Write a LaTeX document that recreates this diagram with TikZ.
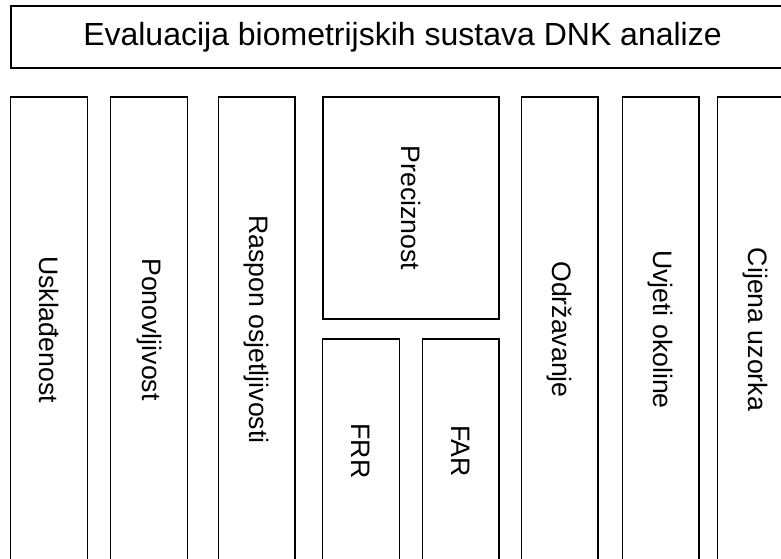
\documentclass[tikz,border=0pt]{standalone}
\usepackage{fontspec}
\setmainfont{Liberation Sans}
\usepackage{tikz}
\usetikzlibrary{positioning}

\tikzset{
    headbox/.style={draw, line width=1pt, minimum width=587.25pt, minimum height=46.5pt,
        inner sep=0pt, font=\fontsize{24}{28}\selectfont},
    colbox/.style={draw, line width=1pt, rotate=-90, minimum width=348.75pt, minimum height=57.5pt,
        inner sep=0pt, font=\fontsize{20}{24}\selectfont},
    subbox/.style={colbox, minimum width=168pt}
}

\begin{document}
\begin{tikzpicture}[x=1pt, y=1pt]
    \useasboundingbox (0,0) rectangle (585.75,-419.25);
    \clip (0,0) rectangle (585.75,-419.25);

    % Header
    \node[headbox] (eval) at (301.875, -27.75) {Evaluacija biometrijskih sustava DNK analize};

    % Criteria
    \node[colbox] (usk) at (36.75, -247.125) {Usklađenost};
    \node[colbox] (pon) at (111.75, -247.125) {Ponovljivost};
    \node[colbox] (ras) at (192.375, -247.125) {Raspon osjetljivosti};

    % Precision with its two rates
    \node[colbox, minimum width=166.5pt, minimum height=132pt] (pre) at (308.25, -156) {Preciznost};
    \node[subbox] (frr) at (270.75, -338.25) {FRR};
    \node[subbox] (far) at (345.375, -338.25) {FAR};

    \node[colbox] (odr) at (419.625, -247.125) {Održavanje};
    \node[colbox] (uvj) at (495.375, -247.125) {Uvjeti okoline};
    \node[colbox] (cij) at (566.625, -247.125) {Cijena uzorka};
\end{tikzpicture}
\end{document}
